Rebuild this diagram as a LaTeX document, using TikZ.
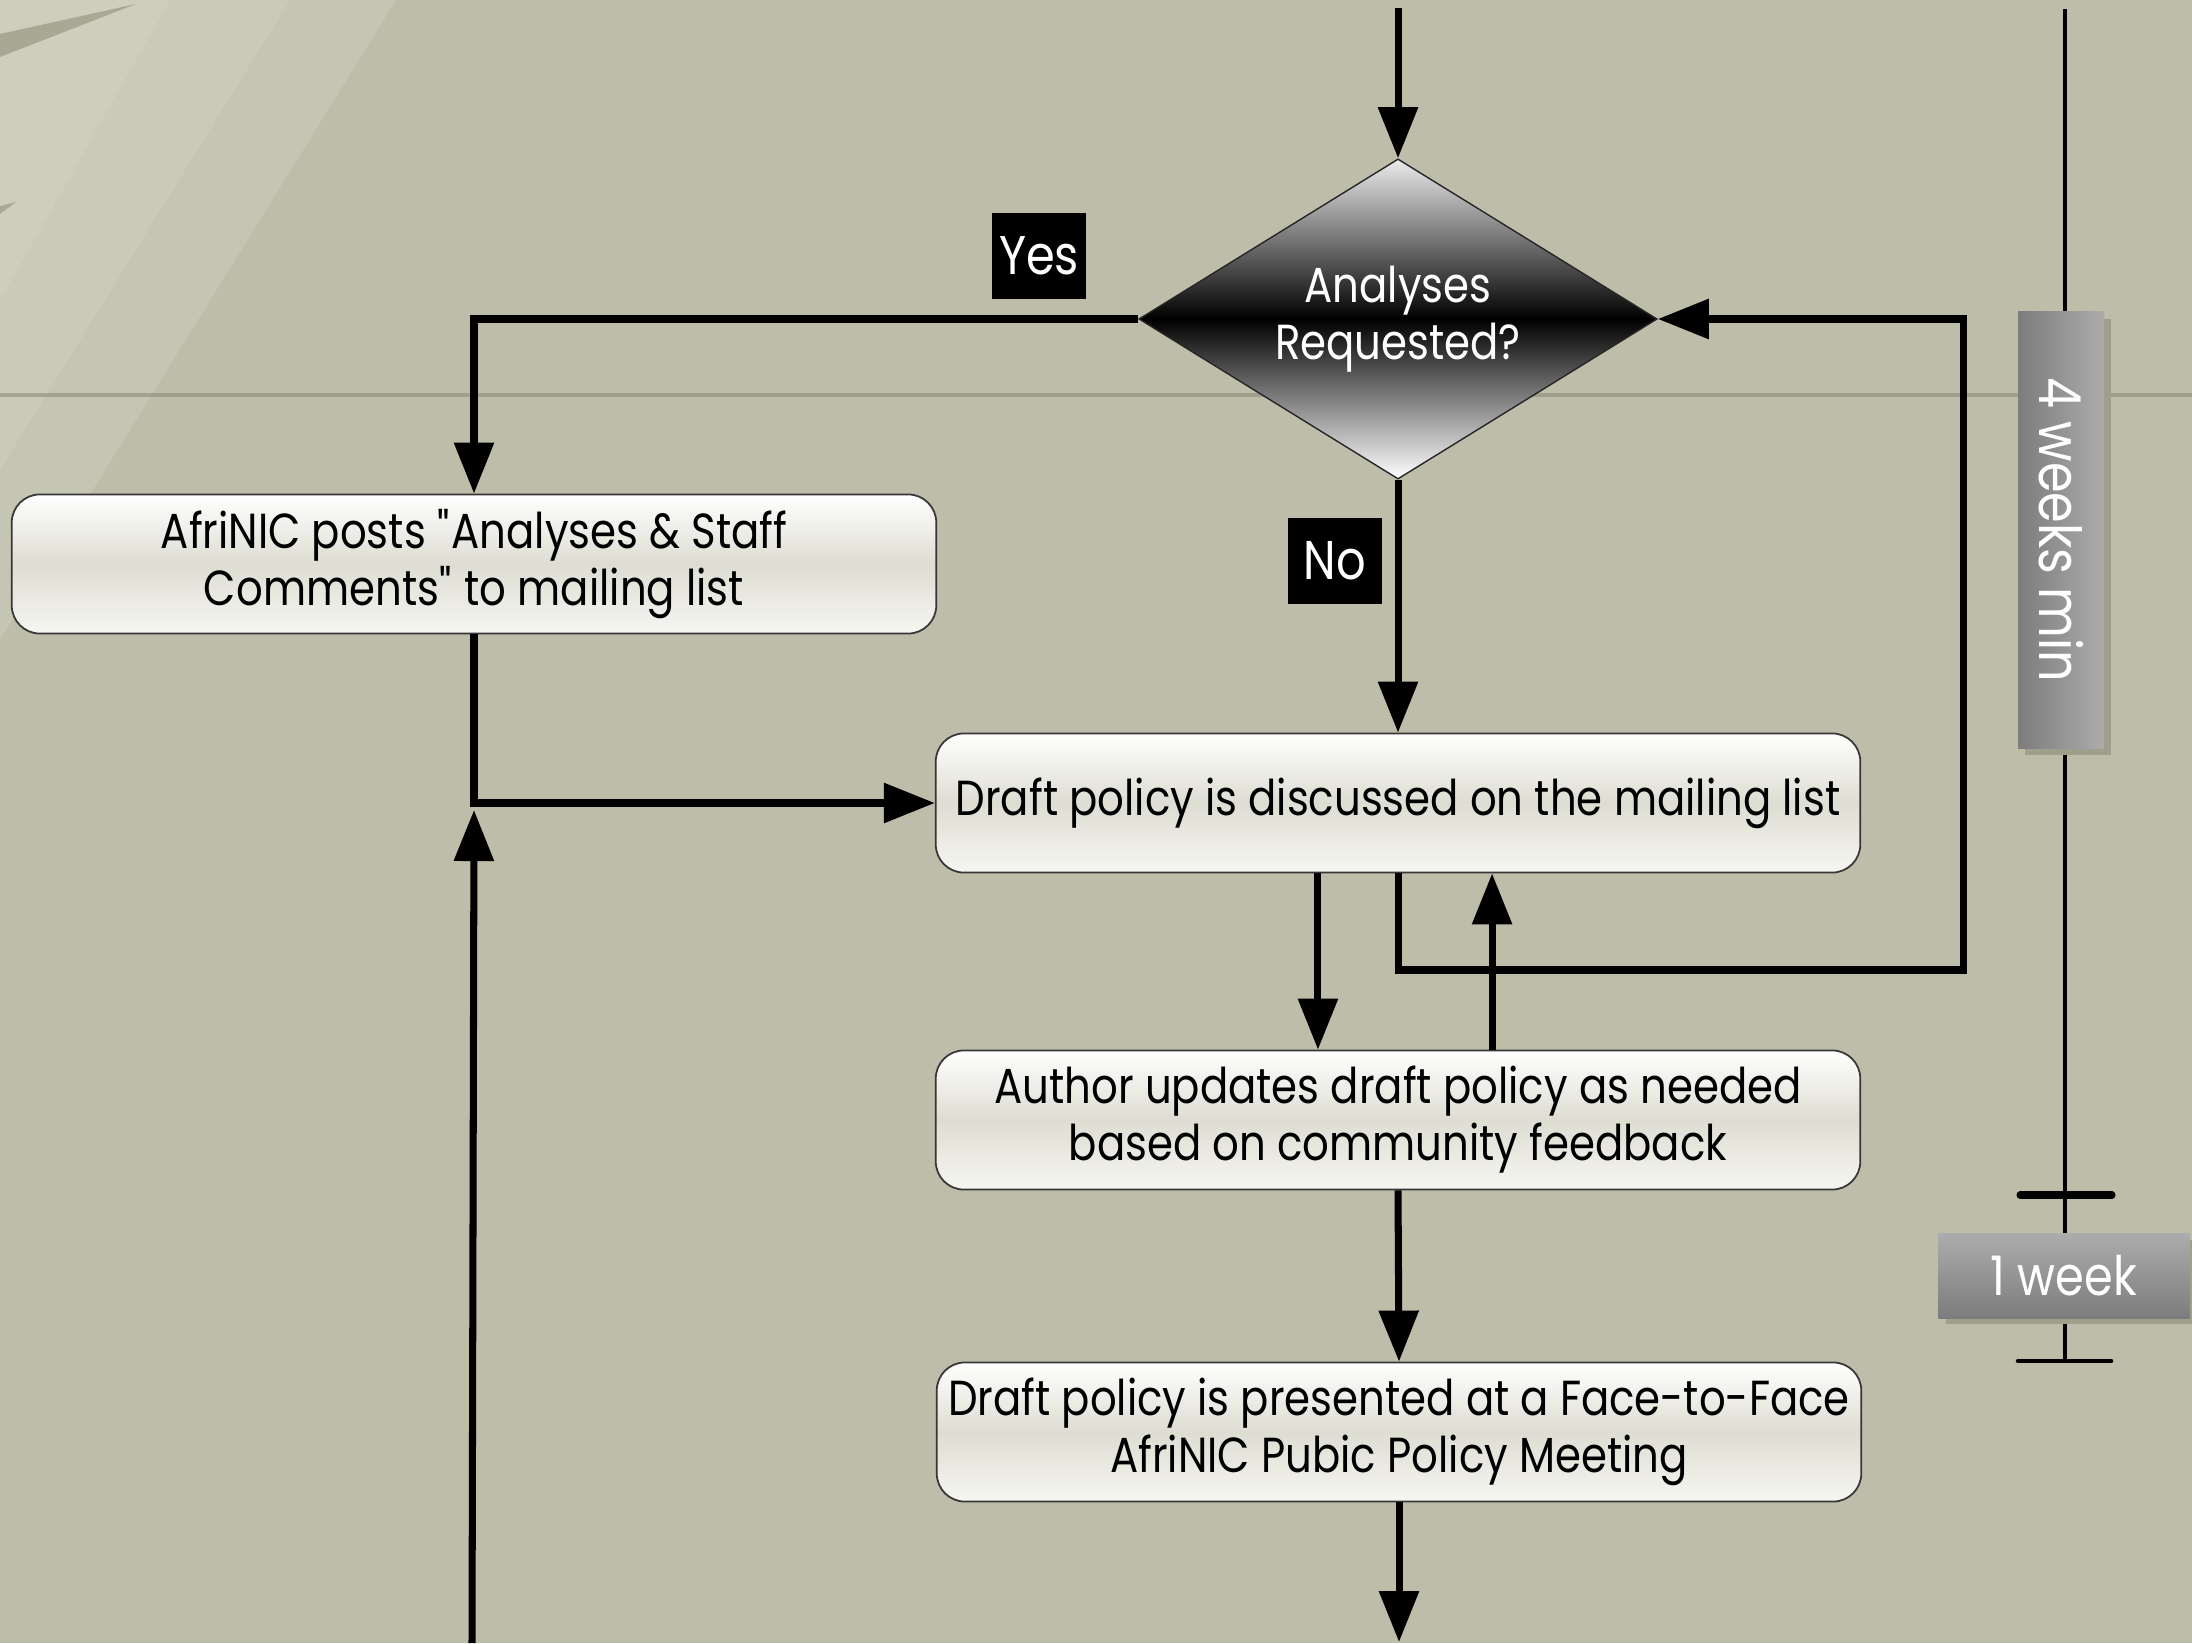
\documentclass[tikz,border=0pt]{standalone}
\usepackage{fontspec}
\setmainfont{Poppins}[FakeStretch=0.85]
\usetikzlibrary{shapes.geometric,arrows.meta,calc}
\definecolor{bgc}{RGB}{190,189,169}
\definecolor{bgdark}{RGB}{160,159,138}
\definecolor{boxline}{RGB}{55,55,55}
\definecolor{boxmid}{RGB}{222,221,210}
\definecolor{boxlo}{RGB}{246,246,242}
\definecolor{diatop}{RGB}{235,235,235}
\definecolor{wkdark}{RGB}{124,124,124}
\definecolor{wklight}{RGB}{172,172,172}
\definecolor{shadowc}{RGB}{160,159,140}
\newcommand{\mainfs}{\fontsize{14}{16.2}\selectfont}
\newcommand{\labfs}{\fontsize{15.5}{18}\selectfont}
\newcommand{\wkfs}{\fontsize{16.5}{19}\selectfont}
\newcommand{\wkfsb}{\fontsize{15.5}{18}\selectfont}
\begin{document}
\begin{tikzpicture}[x=0.01cm,y=-0.01cm,
  stepbox/.style={draw=boxline, line width=0.5pt, rounded corners=8pt,
    minimum width=9.24cm, minimum height=1.39cm, inner sep=0pt, align=center,
    top color=white, bottom color=boxlo, middle color=boxmid, font=\mainfs, text=black},
  decision/.style={diamond, draw=black!85, line width=0.4pt, shape aspect=1.6,
    minimum width=5.18cm, minimum height=3.2cm, inner sep=0pt, align=center,
    top color=diatop, bottom color=white, middle color=black, text=white, font=\mainfs},
  lab/.style={fill=black, text=white, minimum width=0.93cm, minimum height=0.86cm,
    inner sep=0pt, font=\labfs},
  arr/.style={line width=2pt, -{Triangle[length=14.5pt,width=11pt]}},
  tline/.style={line width=1pt},
  tick/.style={line width=2pt, line cap=round},
  tickb/.style={line width=1.3pt, line cap=round},
]
\useasboundingbox (0,0) rectangle (2192,1643);
% background
\fill[bgc] (0,0) rectangle (2192,1643);
\fill[white, opacity=0.12] (0,0) -- (396,0) -- (0,640) -- cycle;
\fill[white, opacity=0.09] (0,0) -- (290,0) -- (0,470) -- cycle;
\fill[white, opacity=0.09] (0,0) -- (170,0) -- (0,300) -- cycle;
\fill[bgdark, opacity=0.8] (0,34) -- (136,4) -- (0,57) -- cycle;
\fill[bgdark, opacity=0.8] (0,206) -- (16,202) -- (0,214) -- cycle;
\draw[bgdark!85!black, opacity=0.55, line width=0.9pt] (0,395) -- (2192,395);

% timeline
\coordinate (tl0) at (2065,9);
\coordinate (tl2) at (2065,1361);
\draw[tline] (tl0) -- (tl2);
\draw[tick] (2020,1195) -- (2112,1195);
\draw[tickb] (2018,1361) -- (2111,1361);

% shadows of duration boxes
\fill[shadowc] (2025,319) rectangle (2111,755);
\fill[shadowc] (1946,1240) rectangle (2192,1324);
\node[draw=none, left color=wkdark, right color=wklight, minimum width=0.86cm,
  minimum height=4.36cm, inner sep=0pt, text=white, font=\wkfs] (w4) at (2061,530)
  {\rotatebox{-90}{4 weeks min}};
\node[draw=none, top color=wklight, bottom color=wkdark, minimum width=2.51cm,
  minimum height=0.85cm, inner sep=0pt, text=white, font=\wkfsb] (w1) at (2064,1276)
  {1 week};

% nodes
\node[decision] (dia) at (1398,319) {Analyses\\Requested?};
\node[stepbox] (afri) at (474,564) {AfriNIC posts \textquotedbl Analyses \& Staff\\Comments\textquotedbl{} to mailing list};
\node[stepbox] (draft) at (1398,803) {Draft policy is discussed on the mailing list};
\node[stepbox] (author) at (1398,1120) {Author updates draft policy as needed\\based on community feedback};
\node[stepbox] (present) at (1399,1432) {Draft policy is presented at a Face-to-Face\\AfriNIC Pubic Policy Meeting};
\node[lab] (yes) at (1039,256) {Yes};
\node[lab] (no) at (1335,561) {No};

% connectors
\coordinate (topin) at (1398,8);
\coordinate (botin) at (472,1643);
\coordinate (botout) at (1399,1642);
\coordinate (loopc) at (1963,970);
\coordinate (junc) at (afri.south |- draft.west);
\draw[arr] (topin) -- (dia.north);
\draw[arr] (dia.west) -| (afri.north);
\draw[arr] (dia.south) -- (draft.north);
\draw[arr] (afri.south) |- (draft.west);
\draw[arr] (botin) -- ([yshift=-2pt]junc);
\draw[arr] ([xshift=-0.80cm]draft.south) -- ([xshift=-0.80cm]author.north);
\draw[arr] ([xshift=0.94cm]author.north) -- ([xshift=0.94cm]draft.south);
\draw[arr] (draft.south) |- (loopc) |- (dia.east);
\draw[arr] (author.south) -- (present.north);
\draw[arr] (present.south) -- (botout);
\end{tikzpicture}
\end{document}
